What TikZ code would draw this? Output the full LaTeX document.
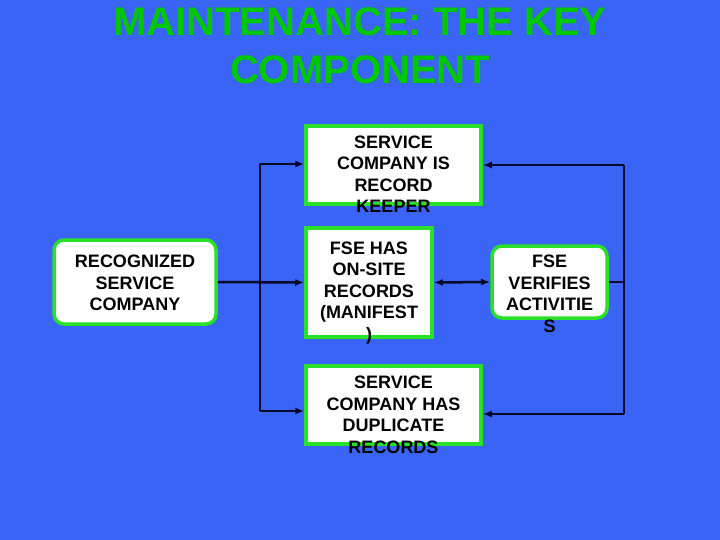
\documentclass[tikz,border=0pt]{standalone}
\usepackage{fontspec}
\setmainfont{Liberation Sans}
\usetikzlibrary{arrows.meta}
\definecolor{bg}{RGB}{58,100,246}
\definecolor{bord}{RGB}{40,225,40}
\definecolor{ttl}{RGB}{0,200,0}
\definecolor{ln}{RGB}{8,8,40}
\tikzset{
  sqbox/.style={draw=bord, line width=3.5pt, fill=white, inner sep=0pt},
  rdbox/.style={sqbox, rounded corners=10pt},
  txt/.style={font=\bfseries\fontsize{18}{21.5}\selectfont, align=center, text=black, inner sep=0pt},
  title/.style={font=\bfseries\fontsize{40}{48}\selectfont, inner sep=0pt, align=center},
  tip/.tip={Latex[length=9pt,width=7pt]},
  conn/.style={draw=ln, line width=2.5pt, -tip},
  plain/.style={draw=ln, line width=2.5pt}
}
\begin{document}
\begin{tikzpicture}[x=1pt,y=-1pt]
\fill[bg] (0,0) rectangle (720,540);
\useasboundingbox (0,0) rectangle (720,540);
% title
\node[title, text=ttl] (title) at (360,46) {MAINTENANCE: THE KEY\\COMPONENT};
% boxes
\node[sqbox, minimum width=175, minimum height=78] (top) at (393.5,165) {};
\node[sqbox, minimum width=126, minimum height=109] (mid) at (369,282.5) {};
\node[sqbox, minimum width=175, minimum height=78] (bot) at (393.5,405) {};
\node[rdbox, minimum width=162, minimum height=84] (left) at (135,282) {};
\node[rdbox, minimum width=115, minimum height=72] (right) at (549.5,282) {};
% texts
\node[txt] (toptx) at (393.5,174) {SERVICE\\COMPANY IS\\RECORD\\KEEPER};
\node[txt] (midtx) at (369,293) {FSE HAS\\ON-SITE\\RECORDS\\(MANIFEST\\)};
\node[txt] (bottx) at (393.5,415) {SERVICE\\COMPANY HAS\\DUPLICATE\\RECORDS};
\node[txt] (lefttx) at (135,283) {RECOGNIZED\\SERVICE\\COMPANY};
\node[txt] (righttx) at (549.5,294) {FSE\\VERIFIES\\ACTIVITIE\\S};
% connectors
\coordinate (rj) at (624,282);
\coordinate (ltop) at (260,164);
\coordinate (lbot) at (260,411);
\coordinate (rtop) at (624,165);
\coordinate (rbot) at (624,414);
\draw[conn] (left.east) -- (mid.west);
\draw[plain] (ltop) -- (lbot);
\draw[conn] (ltop) -- (ltop -| top.west);
\draw[conn] (lbot) -- (lbot -| bot.west);
\draw[conn, tip-tip] (mid.east) -- (right.west);
\draw[plain] (right.east) -- (rj);
\draw[plain] (rtop) -- (rbot);
\draw[conn] (rtop) -- (rtop -| top.east);
\draw[conn] (rbot) -- (rbot -| bot.east);
\end{tikzpicture}
\end{document}
